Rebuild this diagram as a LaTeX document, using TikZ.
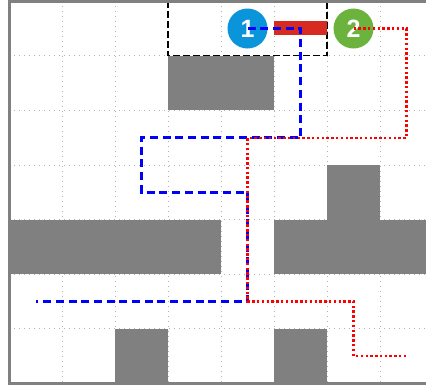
\documentclass[tikz,border=0pt]{standalone}
\usepackage{fontspec}
\setmainfont{Liberation Sans}
\definecolor{wall}{HTML}{808080}
\definecolor{robotblue}{HTML}{0A94DA}
\definecolor{robotgreen}{HTML}{6CB33E}
\definecolor{barred}{HTML}{D72A20}

\begin{document}
\begin{tikzpicture}[
  x=53pt, y=-54.6pt,
  gridline/.style={draw=gray!60, line width=1pt, dash pattern=on 1pt off 4pt},
  obstacle/.style={fill=wall},
  robot/.style={circle, minimum size=40pt, inner sep=0pt, text=white, font=\fontsize{25}{25}\selectfont\bfseries},
  route1/.style={draw=blue, line width=2.6pt, dash pattern=on 8pt off 4.7pt},
  route2/.style={draw=red, line width=2.4pt, dash pattern=on 2.4pt off 2.4pt},
  zone/.style={draw=black, line width=1.3pt, dash pattern=on 7pt off 3pt}
]
\clip (-0.17,-0.022) rectangle (7.868,7.029);
\foreach \i in {1,...,7} \draw[gridline] (\i,0) -- (\i,7);
\foreach \j in {1,...,6} \draw[gridline] (0,\j) -- (8,\j);

% obstacles
\fill[obstacle] (3,1) rectangle (5,2);
\fill[obstacle] (6,3) rectangle (7,4);
\fill[obstacle] (0,4) rectangle (4,5);
\fill[obstacle] (5,4) rectangle (8,5);
\fill[obstacle] (2,6) rectangle (3,7);
\fill[obstacle] (5,6) rectangle (6,7);

\draw[zone] (3,0) rectangle (6,1);
\fill[barred] (5,0.368) rectangle (6,0.625);

\node[robot, fill=robotblue] (r1) at (4.5,0.5) {1};
\node[robot, fill=robotgreen] (r2) at (6.5,0.5) {2};

% planned routes
\draw[route1] (r1.center) -- (5.5,0.5) -- (5.5,2.5) -- (2.5,2.5) -- (2.5,3.5)
  -- (4.5,3.5) -- (4.5,5.5) -- (0.5,5.5);
\draw[route2] (r2.center) -- (7.5,0.5) -- (7.5,2.5) -- (4.5,2.5) -- (4.5,5.5)
  -- (6.5,5.5) -- (6.5,6.5) -- (7.5,6.5);

\draw[draw=wall, line width=3pt] (0,0) rectangle (8,7);
\end{tikzpicture}
\end{document}
